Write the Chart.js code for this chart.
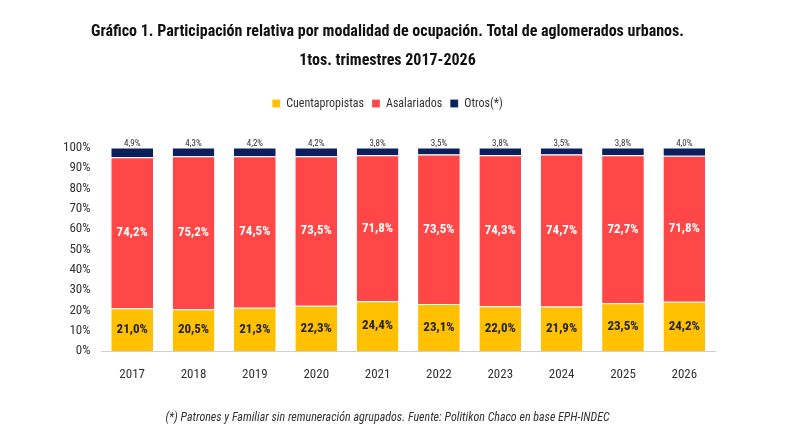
<!DOCTYPE html>
<html><head><meta charset="utf-8">
<script src="https://cdn.jsdelivr.net/npm/chart.js@4"></script>
<style>body{margin:0;background:#fff;width:800px;height:437px;overflow:hidden}#w{position:relative;width:800px;height:437px}</style>
</head><body><div id="w"><canvas id="c" width="800" height="437"></canvas></div>
<script>
const years=['2017','2018','2019','2020','2021','2022','2023','2024','2025','2026'];
const cuenta=[21.0,20.5,21.3,22.3,24.4,23.1,22.0,21.9,23.5,24.2];
const asal=[74.2,75.2,74.5,73.5,71.8,73.5,74.3,74.7,72.7,71.8];
const otros=[4.9,4.3,4.2,4.2,3.8,3.5,3.8,3.5,3.8,4.0];
const F='"Liberation Sans Narrow","Roboto Condensed","DejaVu Sans Condensed",sans-serif';
const fmt=v=>v.toFixed(1).replace('.',',')+'%';
const legPad={id:'lp',beforeInit(ch){const f=ch.legend.fit;ch.legend.fit=function(){f.call(this);this.height+=28;};}};
const labels={id:'lb',afterDatasetsDraw(ch){const c=ch.ctx;c.save();c.textAlign='center';c.textBaseline='middle';
ch.data.datasets.forEach((ds,i)=>{ch.getDatasetMeta(i).data.forEach((b,j)=>{const v=ds.data[j];
if(i===2){c.font='9px '+F;c.fillStyle='#333';c.fillText(fmt(v),b.x,b.y-4);}
else{c.font='bold 13px '+F;c.fillStyle=i===0?'#222':'#fff';c.fillText(fmt(v),b.x,(b.y+b.base)/2);}});});c.restore();}};
new Chart(document.getElementById('c'),{type:'bar',
data:{labels:years,datasets:[
{label:'Cuentapropistas',data:cuenta,backgroundColor:'#FFC000'},
{label:'Asalariados',data:asal,backgroundColor:'#FF4747'},
{label:'Otros(*)',data:otros,backgroundColor:'#0A1F5C'}]},
options:{responsive:false,animation:false,
layout:{padding:{left:60,right:85,top:0,bottom:12}},
datasets:{bar:{categoryPercentage:0.68,barPercentage:1,borderColor:'#fff',borderWidth:{top:1}}},
scales:{x:{stacked:true,grid:{display:false},border:{color:'#d0d0d0'},ticks:{color:'#333',font:{family:F,size:13},padding:8}},
y:{stacked:true,min:0,max:100,grid:{display:false},border:{display:false},ticks:{stepSize:10,color:'#333',font:{family:F,size:13},callback:v=>v+'%'}}},
plugins:{tooltip:{enabled:false},
title:{display:true,text:['Gráfico 1. Participación relativa por modalidad de ocupación. Total de aglomerados urbanos.','1tos. trimestres 2017-2026'],color:'#111',font:{family:F,size:16,weight:'bold',lineHeight:1.8},padding:{top:18,bottom:14}},
legend:{position:'top',labels:{boxWidth:8,boxHeight:8,color:'#333',font:{family:F,size:12},padding:8},maxHeight:80},
subtitle:{display:true,position:'bottom',text:'(*) Patrones y Familiar sin remuneración agrupados. Fuente: Politikon Chaco en base EPH-INDEC',color:'#333',font:{family:F,size:12,style:'italic'},padding:{top:20}}}},
plugins:[legPad,labels]});
</script></body></html>
